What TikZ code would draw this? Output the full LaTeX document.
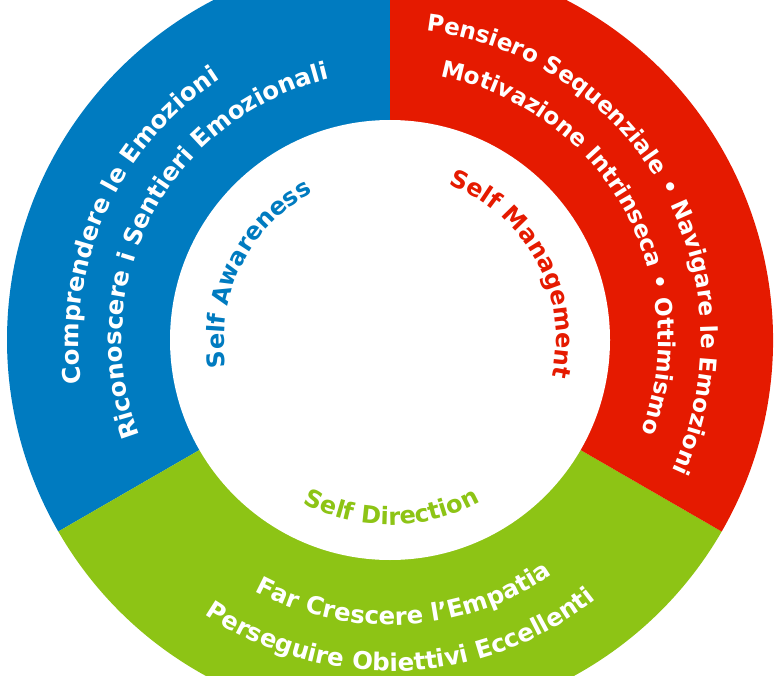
\documentclass[tikz,border=0pt]{standalone}
\usepackage{fontspec}
\setmainfont{DejaVu Sans}
\usetikzlibrary{decorations.text}

\definecolor{awblue}{RGB}{0,123,192}
\definecolor{mgred}{RGB}{229,26,0}
\definecolor{drgreen}{RGB}{141,196,21}

\newcommand\bandfont{\fontsize{13.9}{16}\selectfont\bfseries\color{white}}
\newcommand\redbandfont{\fontsize{13.2}{15}\selectfont\bfseries\color{white}}
\newcommand\labelfont{\fontsize{13.7}{16}\selectfont\bfseries}

\begin{document}
\begin{tikzpicture}[
    ringtext/.style 2 args={decorate,
      decoration={text along path, text align=center, text={|#1|#2}}}
  ]
  \useasboundingbox (0,0) rectangle (15.62,13.5);
  \clip (0,0) rectangle (15.62,13.5);
  \coordinate (c) at (7.8,6.7);

  \fill[awblue] (c) -- ([shift={(c)}]90:7.66) arc[start angle=90, end angle=210, radius=7.66] -- cycle;
  \fill[drgreen] (c) -- ([shift={(c)}]210:7.66) arc[start angle=210, end angle=330, radius=7.66] -- cycle;
  \fill[mgred] (c) -- ([shift={(c)}]330:7.66) arc[start angle=330, end angle=450, radius=7.66] -- cycle;
  \fill[white] (c) circle[radius=4.4];

  \path[ringtext={\bandfont}{Comprendere le Emozioni}]
    ([shift={(c)}]215.5:6.22) arc[start angle=215.5, end angle=95.5, radius=6.22];
  \path[ringtext={\bandfont}{Riconoscere i Sentieri Emozionali}]
    ([shift={(c)}]212:5.36) arc[start angle=212, end angle=92, radius=5.36];

  \path[ringtext={\redbandfont}{Pensiero Sequenziale • Navigare le Emozioni}]
    ([shift={(c)}]104.25:6.22) arc[start angle=104.25, end angle=-45.75, radius=6.22];
  \path[ringtext={\redbandfont}{Motivazione Intrinseca • Ottimismo}]
    ([shift={(c)}]99.5:5.36) arc[start angle=99.5, end angle=-40.5, radius=5.36];

  \path[ringtext={\bandfont}{Far Crescere l’Empatia}]
    ([shift={(c)}]213.2:5.70) arc[start angle=213.2, end angle=333.2, radius=5.70];
  \path[ringtext={\bandfont}{Perseguire Obiettivi Eccellenti}]
    ([shift={(c)}]212.2:6.62) arc[start angle=212.2, end angle=332.2, radius=6.62];

  \path[ringtext={\labelfont\color{awblue}}{Self Awareness}]
    ([shift={(c)}]213.5:3.32) arc[start angle=213.5, end angle=93.5, radius=3.32];
  \path[ringtext={\labelfont\color{mgred}}{Self Management}]
    ([shift={(c)}]98.2:3.32) arc[start angle=98.2, end angle=-41.8, radius=3.32];
  \path[ringtext={\labelfont\color{drgreen}}{Self Direction}]
    ([shift={(c)}]210.6:3.70) arc[start angle=210.6, end angle=330.6, radius=3.70];
\end{tikzpicture}
\end{document}
